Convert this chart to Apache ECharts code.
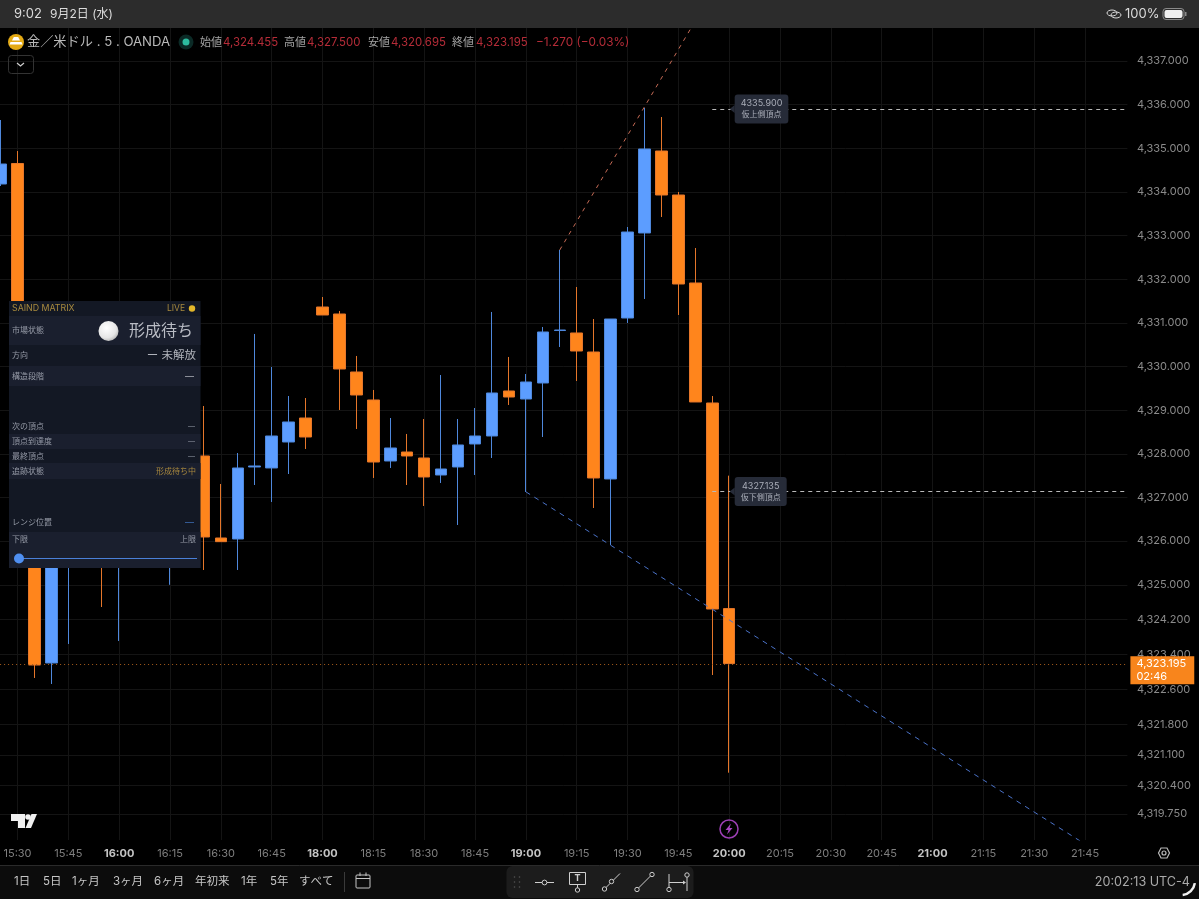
<!DOCTYPE html>
<html>
<head>
<meta charset="utf-8">
<title>XAUUSD 5</title>
<script src="https://cdn.jsdelivr.net/npm/echarts@6/dist/echarts.min.js"></script>
<style>
html, body { margin: 0; padding: 0; background: #000; overflow: hidden; }
#chart { width: 1199px; height: 899px; }
</style>
</head>
<body>
<div id="chart"></div>
<script>
// 5 minute bars, the 17:00-18:00 session break has no bars
var times = [
  '15:25','15:30','15:35','15:40','15:45','15:50','15:55','16:00','16:05','16:10','16:15','16:20','16:25','16:30','16:35',
  '16:40','16:45','16:50','16:55',
  '18:00','18:05','18:10','18:15','18:20','18:25','18:30','18:35','18:40','18:45','18:50','18:55',
  '19:00','19:05','19:10','19:15','19:20','19:25','19:30','19:35','19:40','19:45','19:50','19:55',
  '20:00','20:05','20:10','20:15','20:20','20:25','20:30','20:35','20:40','20:45','20:50','20:55',
  '21:00','21:05','21:10','21:15','21:20','21:25','21:30','21:35','21:40','21:45','21:50','21:55'
];
var opens = [
  4334.182,4334.652,4330.700,4323.208,4326.900,4328.000,4327.500,4326.000,4327.200,4327.800,4326.600,4327.500,
  4327.951,4326.072,4326.049,4327.699,4327.676,4328.271,4328.821,
  4331.364,4331.204,4329.875,4329.234,4327.836,4328.042,4327.905,4327.515,4327.699,4328.226,4328.409,4329.440,
  4329.256,4329.623,4330.825,4330.769,4330.333,4327.424,4331.112,4333.060,4334.938,4333.930,4331.914,4329.165,
  4324.455
];
var closes = [
  4334.640,4330.800,4323.162,4326.900,4328.000,4327.000,4326.500,4327.200,4327.800,4327.000,4327.600,4328.000,
  4326.095,4325.988,4327.676,4327.722,4328.409,4328.730,4328.386,
  4331.181,4329.944,4329.348,4327.813,4328.134,4327.951,4327.470,4327.653,4328.203,4328.409,4329.394,4329.302,
  4329.646,4330.792,4330.837,4330.356,4327.447,4331.089,4333.082,4334.984,4333.930,4331.891,4329.188,4324.445,
  4323.195
];
var lows = [
  4334.136,4330.600,4322.865,4322.727,4323.644,4326.500,4324.491,4323.713,4326.600,4326.400,4325.000,4326.900,
  4325.339,4325.988,4325.339,4327.286,4326.897,4327.538,4328.111,
  4331.181,4329.005,4328.569,4327.447,4327.676,4327.286,4326.805,4327.332,4326.370,4327.515,4327.905,4329.119,
  4327.126,4328.386,4330.448,4329.669,4326.759,4325.912,4330.998,4331.548,4333.426,4331.181,4329.188,4322.933,
  4320.695
];
var highs = [
  4335.648,4334.938,4331.000,4327.500,4328.600,4329.000,4328.500,4328.000,4328.500,4328.300,4328.400,4328.600,
  4329.096,4327.309,4328.019,4330.746,4329.990,4329.325,4329.279,
  4331.593,4331.273,4330.242,4329.463,4328.821,4328.455,4328.798,4329.806,4328.798,4329.050,4331.250,4330.219,
  4329.829,4330.906,4332.670,4331.822,4331.089,4331.089,4333.197,4335.923,4335.717,4333.999,4332.716,4329.325,
  4327.500
];
var priceTicks = [4337,4336,4335,4334,4333,4332,4331,4330,4329,4328,4327,4326,4325,4324.2,4323.4,4322.6,4321.8,4321.1,4320.4,4319.75];
var upTrendTimes = ['19:10','19:50'];
var upTrendPrices = [4332.67,4337.92];
var downTrendTimes = ['19:00','21:45'];
var downTrendPrices = [4327.13,4319.06];
var lastPrice = 4323.195;
var countdown = '02:46';
var pivotPrices = [4335.9,4327.135];
var pivotNames = ['仮上側頂点','仮下側頂点'];
var pivotStart = '19:55';
var pivotLabelTime = '20:00';
var ohlcNames = ['始値','高値','安値','終値'];
var ohlcValues = ['4,324.455','4,327.500','4,320.695','4,323.195'];
var rangeButtons = ['1日','5日','1ヶ月','3ヶ月','6ヶ月','年初来','1年','5年','すべて'];

var candles = opens.map(function (o, i) { return [o, closes[i], lows[i], highs[i]]; });

var UI_FONT = 'Inter, "Noto Sans CJK JP", sans-serif';
var GRID_RIGHT = 1127.4;

var els = [];
var nz = 100;
function add(type, shape, style) {
  els.push({ type: type, shape: shape, style: style, silent: true, z: nz++ });
}
function rect(x, y, w, h, fill, r) {
  add('rect', { x: x, y: y, width: w, height: h, r: r || 0 }, { fill: fill });
}
function box(x, y, w, h, stroke, lw, r) {
  add('rect', { x: x, y: y, width: w, height: h, r: r || 0 }, { fill: 'none', stroke: stroke, lineWidth: lw || 1 });
}
function seg(x1, y1, x2, y2, color, lw) {
  add('line', { x1: x1, y1: y1, x2: x2, y2: y2 }, { stroke: color, lineWidth: lw || 1 });
}
function circ(cx, cy, r, fill, stroke, lw) {
  add('circle', { cx: cx, cy: cy, r: r }, { fill: fill || 'none', stroke: stroke || 'none', lineWidth: lw || 1 });
}
function poly(points, fill) {
  add('polygon', { points: points }, { fill: fill });
}
function txt(x, y, s, size, color, align, weight) {
  els.push({
    type: 'text', silent: true, z: nz++,
    style: {
      x: x, y: y, text: s, fill: color,
      font: (weight || 'normal') + ' ' + size + 'px ' + UI_FONT,
      align: align || 'left', textAlign: align || 'left',
      verticalAlign: 'middle', textVerticalAlign: 'middle'
    }
  });
}

// ipad status bar
rect(0, 0, 1199, 28, '#2c2c2c');
txt(14, 14, '9:02', 13, '#dcdcdc');
txt(50, 14, '9月2日 (水)', 12, '#dcdcdc');
add('ellipse', { cx: 1112, cy: 13, rx: 5, ry: 3 }, { fill: 'none', stroke: '#d8d8d8', lineWidth: 1 });
add('ellipse', { cx: 1116, cy: 15, rx: 5, ry: 3 }, { fill: 'none', stroke: '#d8d8d8', lineWidth: 1 });
txt(1125, 14, '100%', 13, '#dcdcdc');
box(1163, 8.5, 21, 11, '#8a8a8a', 1, 3);
rect(1164.5, 10, 18, 8, '#f0f0f0', 2);
rect(1185, 12, 1.5, 4, '#8a8a8a');

// symbol line
circ(16, 42, 8, '#e4aa14');
poly([[13.8, 37], [18.2, 37], [20, 40.5], [12, 40.5]], '#fff');
poly([[10.5, 42], [21.5, 42], [22.5, 44.5], [9.5, 44.5]], '#fff');
txt(27, 42.5, '金／米ドル . 5 . OANDA', 13.2, '#b9b9b9');
circ(186, 42, 7.5, '#0b2a26');
circ(186, 42, 3.5, '#2dbb9f');
var nameX = [200, 284, 368, 452];
var valueX = [223, 307, 391, 476];
ohlcNames.forEach(function (n, i) {
  txt(nameX[i], 42.5, n, 11, '#a4a4a4');
  txt(valueX[i], 42.5, ohlcValues[i], 11.4, '#b52c38');
});
txt(536, 42.5, '−1.270 (−0.03%)', 11.8, '#b52c38');
box(8.5, 55.5, 25, 18, '#333', 1, 3);
add('polyline', { points: [[17, 63], [20.5, 66], [24, 63]] }, { stroke: '#d0d0d0', lineWidth: 1.2, fill: 'none' });

// status panel
rect(9, 301, 191.5, 267, '#131824');
rect(9, 316, 191.5, 29, '#1a1f2e');
rect(9, 366, 191.5, 20, '#1a1f2e');
rect(9, 434, 191.5, 15, '#1a1f2e');
rect(9, 463, 191.5, 16, '#1a1f2e');
rect(9, 532, 191.5, 36, '#1a1f2e');
txt(12, 308.5, 'SAIND MATRIX', 8.8, '#a88a3e');
txt(185, 308.5, 'LIVE', 8.5, '#a88a3e', 'right');
circ(192, 308.5, 3.2, '#e3b72a');
txt(12, 330.5, '市場状態', 8, '#969ba7');
add('circle', { cx: 108.5, cy: 331, r: 10 }, {
  fill: { type: 'radial', x: 0.4, y: 0.35, r: 0.7, colorStops: [{ offset: 0, color: '#ffffff' }, { offset: 0.7, color: '#e6e6e6' }, { offset: 1, color: '#b4b4b4' }] }
});
txt(193, 331, '形成待ち', 16, '#b9bcc4', 'right');
txt(12, 356, '方向', 8, '#969ba7');
txt(196, 356, 'ー 未解放', 11.5, '#b0b3bb', 'right');
txt(12, 376.5, '構造段階', 8, '#969ba7');
txt(194, 376, '—', 9, '#b0b3bb', 'right');
txt(12, 426.5, '次の頂点', 8, '#969ba7');
txt(195, 426.5, '—', 7, '#8f94a0', 'right');
txt(12, 441.5, '頂点到達度', 8, '#969ba7');
txt(195, 441.5, '—', 7, '#8f94a0', 'right');
txt(12, 456.5, '最終頂点', 8, '#969ba7');
txt(195, 456.5, '—', 7, '#8f94a0', 'right');
txt(12, 471.5, '追跡状態', 8, '#969ba7');
txt(196, 471.5, '形成待ち中', 8, '#a8883e', 'right');
txt(12, 522.5, 'レンジ位置', 8, '#969ba7');
txt(194, 522.5, '—', 9, '#3f6fb8', 'right');
txt(12, 540, '下限', 8, '#969ba7');
txt(196, 540, '上限', 8, '#969ba7', 'right');
seg(19, 558.5, 197, 558.5, '#4a80d8', 1);
circ(19, 558.5, 5, '#4f8ff0');

// tv logo
poly([[11, 814], [25, 814], [25, 828], [18, 828], [18, 821], [11, 821]], '#f0f0f0');
circ(28, 817, 2.8, '#f0f0f0');
poly([[31.5, 814], [37, 814], [31, 828], [25.5, 828]], '#f0f0f0');

// events marker
circ(729, 829, 9, 'none', '#9c3fb4', 1.5);
poly([[731, 823.5], [725.5, 830], [728.5, 830], [727, 834.5], [732.5, 828], [729.5, 828]], '#a946c2');

// settings hexagon
add('polygon', { points: [[1158.5, 853], [1161, 848], [1167, 848], [1169.5, 853], [1167, 858], [1161, 858]] }, { fill: 'none', stroke: '#b8b8b8', lineWidth: 1.2 });
circ(1164, 853, 2, 'none', '#b8b8b8', 1.2);

// bottom bar
rect(0, 865, 1199, 34, '#0c0c0c');
seg(0, 865.5, 1199, 865.5, '#2a2a2a', 1);
var rangeX = [14, 43, 72, 113, 154, 195, 241, 270, 299];
rangeButtons.forEach(function (b, i) { txt(rangeX[i], 882, b, 11.5, '#c6c6c6'); });
seg(344.5, 872, 344.5, 892, '#3a3a3a', 1);
box(356, 875, 14, 13, '#c6c6c6', 1, 1);
seg(356, 878.5, 370, 878.5, '#c6c6c6', 1);
seg(360, 872.5, 360, 876, '#c6c6c6', 1);
seg(366, 872.5, 366, 876, '#c6c6c6', 1);
txt(1190, 882, '20:02:13 UTC-4', 12.6, '#ababab', 'right');
add('arc', { cx: 1181, cy: 881, r: 14, startAngle: 0.15, endAngle: 1.45, clockwise: true }, { stroke: '#f0f0f0', lineWidth: 2.5, fill: 'none' });

// drawing tools
rect(506.5, 866, 187, 32, '#1c1c1c', 6);
[514.5, 519.5].forEach(function (x) {
  [877, 882, 887].forEach(function (y) { circ(x, y, 0.8, '#555'); });
});
seg(535, 882.5, 554, 882.5, '#cfcfcf', 1);
circ(544.5, 882.5, 2.4, '#1c1c1c', '#cfcfcf', 1);
box(569.5, 872.5, 16, 12, '#cfcfcf', 1);
txt(577.5, 878.5, 'T', 9, '#cfcfcf', 'center', 'bold');
seg(577.5, 884.5, 577.5, 888, '#cfcfcf', 1);
circ(577.5, 890, 2.2, '#1c1c1c', '#cfcfcf', 1);
seg(604.5, 889, 620, 873.5, '#cfcfcf', 1);
circ(604.5, 889, 2.2, '#1c1c1c', '#cfcfcf', 1);
circ(611.5, 881.5, 2.2, '#1c1c1c', '#cfcfcf', 1);
seg(637, 889.5, 652, 874.5, '#cfcfcf', 1);
circ(637, 889.5, 2.2, '#1c1c1c', '#cfcfcf', 1);
circ(652, 874.5, 2.2, '#1c1c1c', '#cfcfcf', 1);
seg(669, 874, 669, 887, '#cfcfcf', 1);
circ(669, 889.5, 2.2, '#1c1c1c', '#cfcfcf', 1);
seg(687, 877, 687, 891, '#cfcfcf', 1);
circ(687, 875, 2.2, '#1c1c1c', '#cfcfcf', 1);
seg(669, 882.5, 684, 882.5, '#cfcfcf', 1);
poly([[686, 882.5], [683, 880.5], [683, 884.5]], '#cfcfcf');

function fmtPrice(v) {
  return Number(v).toLocaleString('en-US', { minimumFractionDigits: 3, maximumFractionDigits: 3 });
}

function isQuarter(idx, value) {
  return Number(value.split(':')[1]) % 15 === 0;
}

function pivotLine(p) {
  return [
    { xAxis: pivotStart, yAxis: p, symbol: 'none', lineStyle: { color: '#b9b9b9', type: [4, 4], width: 1 }, label: { show: false } },
    { xAxis: times[times.length - 1], x: GRID_RIGHT, yAxis: p, symbol: 'none' }
  ];
}

var chart = echarts.init(document.getElementById('chart'));
var option = {
  animation: false,
  backgroundColor: '#000',
  textStyle: { fontFamily: UI_FONT },
  grid: { left: -7.9, top: 28, width: 1135.3, height: 812, outerBoundsMode: 'none' },
  xAxis: {
    type: 'category',
    data: times,
    axisLine: { show: false },
    axisTick: { show: false, interval: isQuarter, alignWithLabel: true },
    splitLine: { show: true, interval: isQuarter, alignWithLabel: true, lineStyle: { color: '#141414', width: 1 } },
    axisLabel: {
      interval: isQuarter, margin: 8, fontSize: 11, color: '#7f7f7f',
      formatter: function (v) { return v.slice(-3) === ':00' ? '{h|' + v + '}' : v; },
      rich: { h: { fontSize: 11, fontWeight: 'bold', color: '#c4c4c4' } }
    }
  },
  yAxis: {
    type: 'value',
    position: 'right',
    scale: true,
    min: 4319.153,
    max: 4337.756,
    axisLine: { show: false },
    axisTick: { show: false, customValues: priceTicks },
    splitLine: { show: true, lineStyle: { color: '#141414', width: 1 } },
    axisLabel: { customValues: priceTicks, margin: 9.5, fontSize: 11, color: '#8a8a8a', formatter: fmtPrice }
  },
  series: [
    {
      type: 'candlestick',
      name: 'XAUUSD',
      data: candles,
      barWidth: 12,
      itemStyle: { color: '#5c9dff', color0: '#ff851c', borderColor: '#4f88dc', borderColor0: '#e5762a', borderWidth: 1 },
      markLine: {
        silent: true,
        symbol: 'none',
        z: 20,
        data: [
          {
            yAxis: lastPrice,
            lineStyle: { color: '#a85d1c', type: [1, 3], width: 1 },
            label: {
              show: true, position: 'end', distance: 3, offset: [0, 6.5],
              formatter: function () { return fmtPrice(lastPrice) + '\n' + countdown; },
              backgroundColor: '#f8851c', color: '#fff', fontSize: 11, lineHeight: 13,
              padding: [1, 8, 1, 6], align: 'left'
            }
          },
          pivotLine(pivotPrices[0]),
          pivotLine(pivotPrices[1])
        ]
      },
      markPoint: {
        silent: true,
        z: 25,
        symbol: 'triangle',
        symbolSize: [8, 5],
        symbolRotate: 90,
        symbolOffset: [3, 0],
        itemStyle: { color: '#262b38' },
        data: pivotPrices.map(function (p, i) {
          return {
            coord: [pivotLabelTime, p],
            label: {
              show: true, position: 'right', distance: 0,
              formatter: '{v|' + p.toFixed(3) + '}\n{n|' + pivotNames[i] + '}',
              backgroundColor: '#262b38', borderRadius: 3, padding: [3, 6, 3, 6], align: 'left',
              rich: {
                v: { fontSize: 9, lineHeight: 12, color: '#a9adb8', align: 'center' },
                n: { fontSize: 8, lineHeight: 11, color: '#a9adb8', align: 'center' }
              }
            }
          };
        })
      }
    },
    {
      type: 'line',
      name: 'upper trend',
      data: upTrendTimes.map(function (t, i) { return [t, upTrendPrices[i]]; }),
      symbol: 'none',
      z: 3,
      lineStyle: { color: '#c46a55', width: 1, type: [4, 5] }
    },
    {
      type: 'line',
      name: 'lower trend',
      data: downTrendTimes.map(function (t, i) { return [t, downTrendPrices[i]]; }),
      symbol: 'none',
      z: 3,
      lineStyle: { color: '#4a72c8', width: 1, type: [5, 5] }
    }
  ],
  graphic: { elements: els }
};
chart.setOption(option);
</script>
</body>
</html>
